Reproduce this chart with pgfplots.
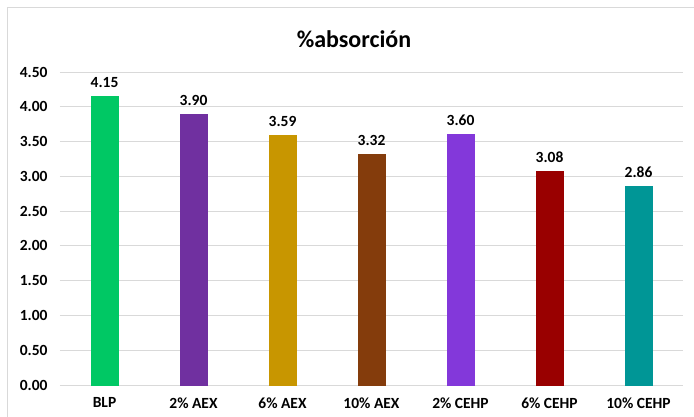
\documentclass[border=0pt]{standalone}
\usepackage{fontspec}
\setmainfont{Carlito}
\usepackage{pgfplots}
\pgfplotsset{compat=1.18}

\definecolor{cBLP}{RGB}{0,200,100}
\definecolor{cAEXa}{RGB}{112,48,160}
\definecolor{cAEXb}{RGB}{200,150,0}
\definecolor{cAEXc}{RGB}{132,60,12}
\definecolor{cCEHa}{RGB}{131,56,218}
\definecolor{cCEHb}{RGB}{153,0,0}
\definecolor{cCEHc}{RGB}{0,150,150}
\definecolor{gridgray}{RGB}{217,217,217}

\begin{document}
\begin{tikzpicture}[x=1pt,y=1pt]
\useasboundingbox (0,0) rectangle (694,416);
\draw[gridgray, line width=1pt] (7,-5) -- (7,408) -- (700,408);
\node[font=\fontsize{24}{28}\selectfont\bfseries] at (354,377) {\%absorción};
\begin{axis}[
  at={(60pt,31pt)}, anchor=south west,
  scale only axis, width=623pt, height=313pt,
  xmin=-0.5, xmax=6.5, ymin=0, ymax=4.5,
  ytick={0,0.5,...,4.5},
  xtick={0,...,6},
  xticklabels={BLP,2\% AEX,6\% AEX,10\% AEX,2\% CEHP,6\% CEHP,10\% CEHP},
  axis line style={draw=none},
  major tick length=0pt,
  ymajorgrids, major grid style={draw=gridgray, line width=1pt},
  /pgf/number format/assume math mode=true,
  yticklabel={\pgfmathprintnumber[fixed,fixed zerofill,precision=2]{\tick}},
  ticklabel style={font=\fontsize{15.5}{18}\selectfont\bfseries},
  yticklabel style={xshift=-9pt},
  xticklabel style={yshift=-9pt},
  ybar, bar width=27pt, bar shift=0pt,
  nodes near coords,
  nodes near coords style={font=\fontsize{15.5}{18}\selectfont\bfseries, yshift=5pt,
    /pgf/number format/.cd, fixed, fixed zerofill, precision=2, assume math mode=true},
  clip=false,
]
\addplot[fill=cBLP, draw=cBLP] coordinates {(0,4.15)};
\addplot[fill=cAEXa, draw=cAEXa] coordinates {(1,3.90)};
\addplot[fill=cAEXb, draw=cAEXb] coordinates {(2,3.59)};
\addplot[fill=cAEXc, draw=cAEXc] coordinates {(3,3.32)};
\addplot[fill=cCEHa, draw=cCEHa] coordinates {(4,3.60)};
\addplot[fill=cCEHb, draw=cCEHb] coordinates {(5,3.08)};
\addplot[fill=cCEHc, draw=cCEHc] coordinates {(6,2.86)};
\end{axis}
\end{tikzpicture}
\end{document}
